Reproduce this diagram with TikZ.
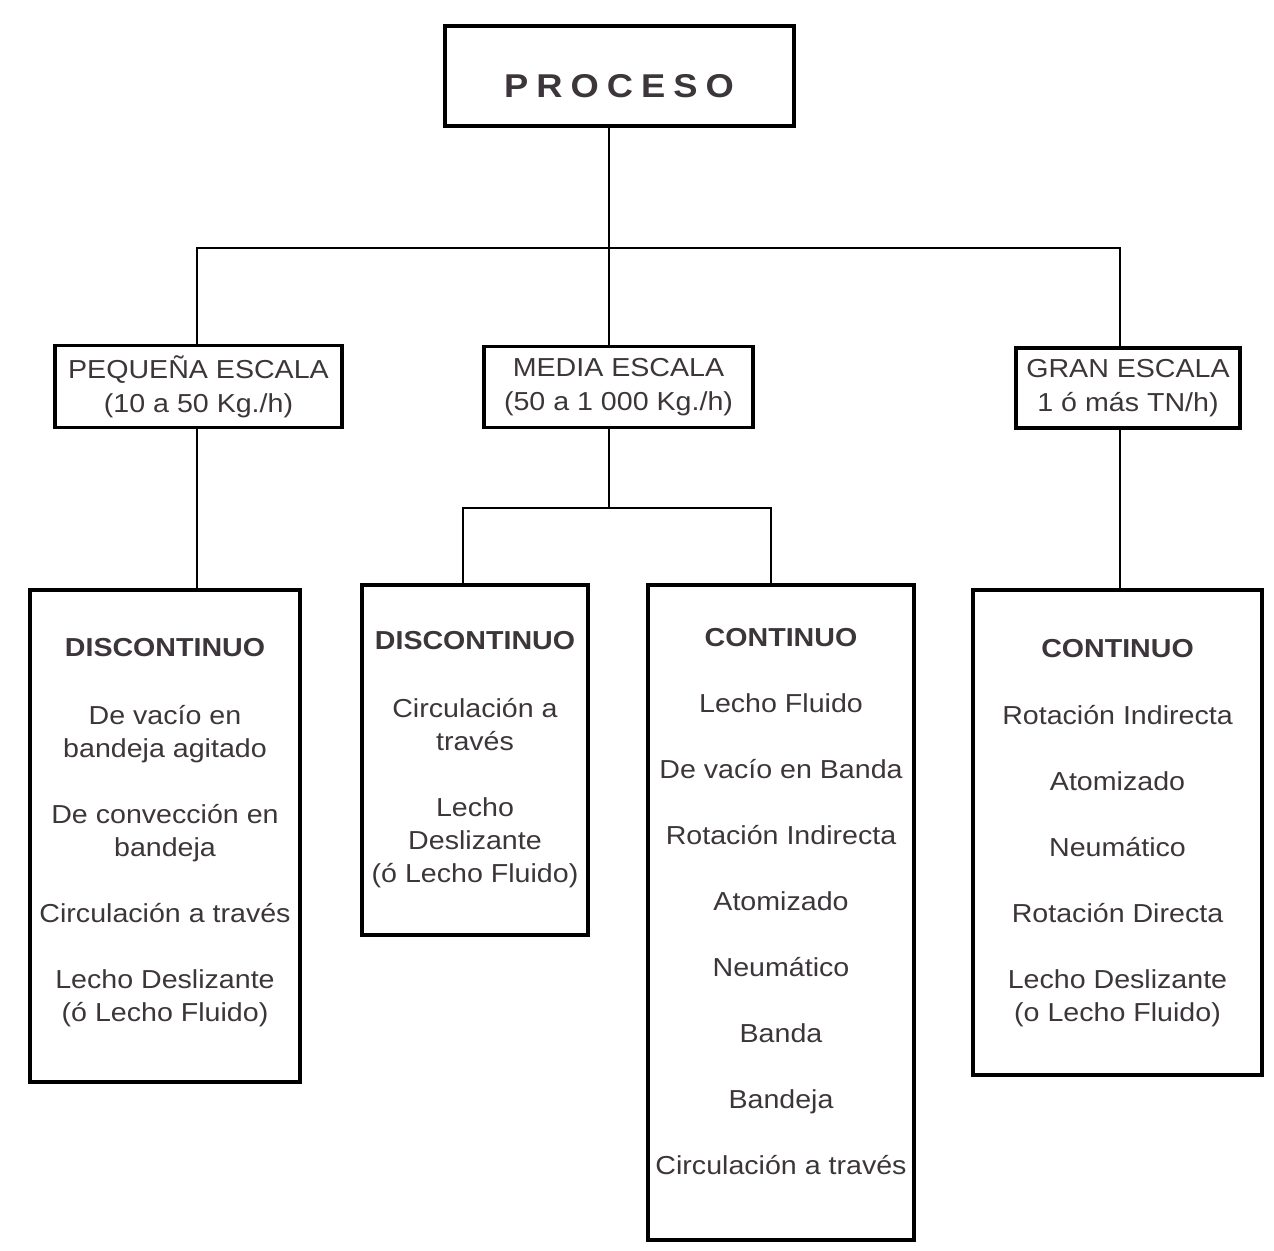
\documentclass[tikz,border=0pt]{standalone}
\usepackage{fontspec}
\setmainfont{Liberation Sans}[FakeStretch=1.1]
\usetikzlibrary{calc}
\definecolor{inkgray}{RGB}{60,54,58}

\begin{document}
\begin{tikzpicture}[x=1pt, y=-1pt,
    every node/.style={text=inkgray, align=center, outer sep=0pt, inner sep=0pt},
    scalebox/.style={draw, line width=3.3pt, font=\fontsize{26}{34}\selectfont},
    listbox/.style={draw, line width=3.3pt, font=\fontsize{26}{33}\selectfont},
    link/.style={line width=1.8pt}]
  \useasboundingbox (0,0) rectangle (1274,1250);

  % top box
  \node[draw, line width=4pt, minimum width=349pt, minimum height=100pt,
        font=\fontsize{33}{36}\selectfont\bfseries] (proceso) at (619,76)
        {\raisebox{-21pt}[0pt][0pt]{P\kern8pt R\kern8pt O\kern8pt C\kern8pt E\kern8pt S\kern8pt O}};

  % scale boxes
  \node[scalebox, minimum width=287pt, minimum height=82pt] (peq) at (198.5,386.5)
        {PEQUEÑA ESCALA\\(10 a 50 Kg./h)};
  \node[scalebox, minimum width=269pt, minimum height=81pt] (media) at (618.5,387)
        {MEDIA ESCALA\\(50 a 1 000 Kg./h)};
  \node[scalebox, minimum width=224pt, minimum height=80pt] (gran) at (1128,388)
        {GRAN ESCALA\\1 ó más TN/h)};

  % process lists
  \node[listbox, minimum width=270pt, minimum height=492pt] (disc1) at (165,836)
        {\textbf{DISCONTINUO}\\[35pt]
         De vacío en\\bandeja agitado\\[33pt]
         De convección en\\bandeja\\[33pt]
         Circulación a través\\[33pt]
         Lecho Deslizante\\(ó Lecho Fluido)\\[-20pt]\mbox{}};
  \node[listbox, minimum width=226pt, minimum height=350pt] (disc2) at (475,760)
        {\textbf{DISCONTINUO}\\[35pt]
         Circulación a\\través\\[33pt]
         Lecho\\Deslizante\\(ó Lecho Fluido)};
  \node[listbox, minimum width=266pt, minimum height=655pt] (cont1) at (781,912.5)
        {\textbf{CONTINUO}\\[33pt]
         Lecho Fluido\\[33pt]
         De vacío en Banda\\[33pt]
         Rotación Indirecta\\[33pt]
         Atomizado\\[33pt]
         Neumático\\[33pt]
         Banda\\[33pt]
         Bandeja\\[33pt]
         Circulación a través\\[-10pt]\mbox{}};
  \node[listbox, minimum width=289pt, minimum height=485pt] (cont2) at (1117.5,832.5)
        {\textbf{CONTINUO}\\[34pt]
         Rotación Indirecta\\[33pt]
         Atomizado\\[33pt]
         Neumático\\[33pt]
         Rotación Directa\\[33pt]
         Lecho Deslizante\\(o Lecho Fluido)\\[-28pt]\mbox{}};

  % branch points
  \coordinate (trunk) at (609,248);
  \coordinate (jp) at (197,248);
  \coordinate (jg) at (1120,248);
  \coordinate (jm) at (609,508);
  \coordinate (jl) at (463,508);
  \coordinate (jr) at (771,508);

  % connectors
  \draw[link] (proceso.south -| trunk) -- (media.north -| trunk);
  \draw[link] (jp |- peq.north) |- (jg) -- (jg |- gran.north);
  \draw[link] (jp |- peq.south) -- (jp |- disc1.north);
  \draw[link] (jg |- gran.south) -- (jg |- cont2.north);
  \draw[link] (media.south -| jm) -- (jm);
  \draw[link] (jl |- disc2.north) |- (jr) -- (jr |- cont1.north);
\end{tikzpicture}
\end{document}
